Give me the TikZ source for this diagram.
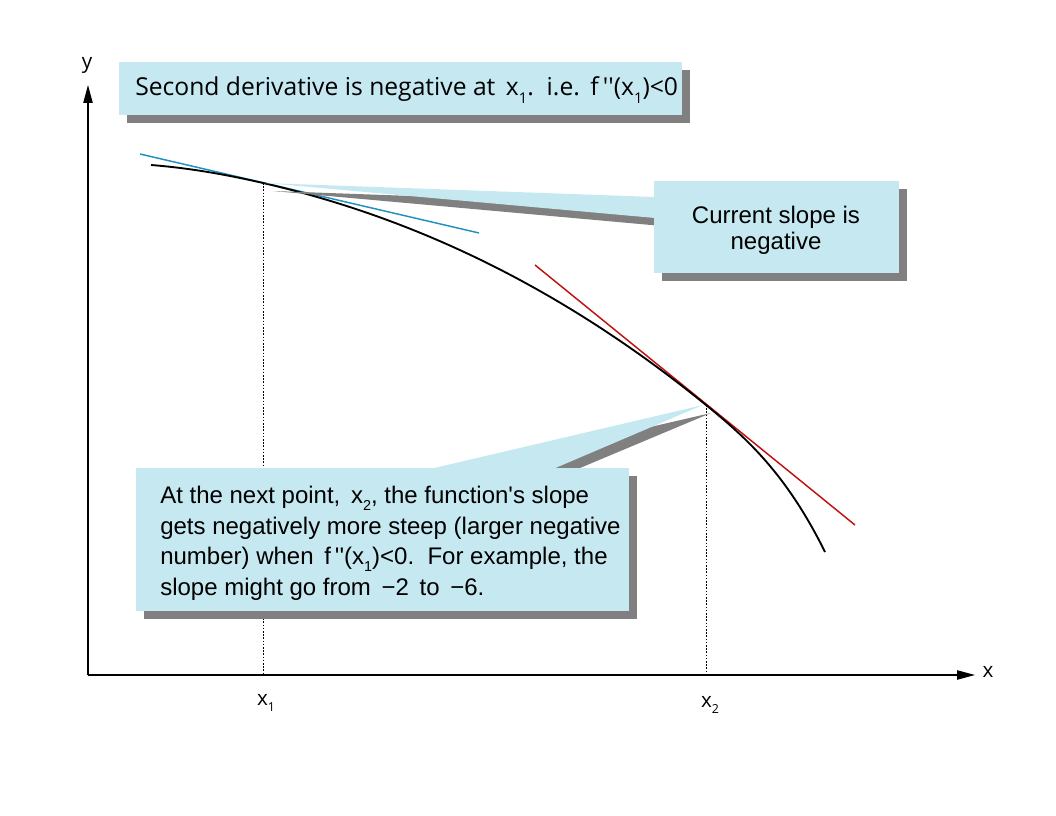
\documentclass[tikz,border=0pt]{standalone}
\usepackage{fontspec}
\setmainfont{Liberation Sans}[Ligatures=TeXOff]
\newfontfamily\os{Open Sans}[Ligatures=TeXOff]
\usetikzlibrary{arrows.meta}
\definecolor{calfill}{RGB}{198,233,241}
\definecolor{shad}{RGB}{128,128,128}
\definecolor{tanblue}{RGB}{30,145,190}
\definecolor{tanred}{RGB}{192,16,16}
\newcommand\sbs[1]{\raisebox{-0.55ex}{\fontsize{0.6em}{0.6em}\selectfont #1}}
\begin{document}
\begin{tikzpicture}[x=0.75pt,y=-0.75pt,
  axis/.style={line width=0.9pt, -{Triangle[length=13.5pt,width=7pt]}},
  guide/.style={line width=0.5pt, dash pattern=on 1.2pt off 1.2pt},
  callbox/.style={fill=calfill},
  callshadow/.style={fill=shad},
  lab/.style={font=\os\fontsize{15.5}{18}\selectfont, inner sep=0pt},
  toptxt/.style={font=\os\fontsize{18.5}{21}\selectfont, inner sep=0pt},
  txt/.style={font=\fontsize{18}{22.9}\selectfont, inner sep=0pt},
  curve/.style={line width=1.4pt},
  tangent/.style={line width=1.1pt},
]
\useasboundingbox (0,0) rectangle (1056,816);

% key points
\coordinate (O) at (88,675);
\coordinate (ytip) at (88,85);
\coordinate (xtip) at (975,675);
\coordinate (p0) at (151,165);
\coordinate (p1) at (263,183);
\coordinate (p2) at (706,405);
\coordinate (p3) at (825,552);
\coordinate (f1) at (263,675);
\coordinate (f2) at (706,675);

% guides
\draw[guide] (p1) -- (f1);
\draw[guide] (p2) -- (f2);

% axes
\draw[axis] (O) -- (ytip);
\draw[axis] (O) -- (xtip);
\node[lab] (ylab) at (87,65) {y};
\node[lab] (xlab) at (988,672) {x};
\node[lab] (x1lab) at (266,703) {x\sbs{1}};
\node[lab] (x2lab) at (710,705) {x\sbs{2}};

% tangents
\coordinate (b0) at (140,154);
\coordinate (b1) at (479,233);
\coordinate (r0) at (535,265);
\coordinate (r1) at (855,525);
\draw[tangent, tanblue] (b0) -- (b1);
\draw[tangent, tanred] (r0) -- (r1);

% curve
\draw[curve] (p0) .. controls (189,168) and (226,174.5) .. (p1)
  .. controls (410.7,217) and (558.3,285) .. (p2)
  .. controls (745.3,437) and (786,473) .. (p3);

% top callout
\fill[callshadow] (127,70) rectangle (690,123);
\fill[callbox] (119,62) rectangle (682,115);
\node[toptxt, anchor=west] (t1) at (135,90) {Second derivative is negative at \,x\sbs{1}.\ \ i.e.\ \,f\,''(x\sbs{1})<0};

% current slope callout
\fill[callshadow] (273,191) -- (662,205) -- (662,226) -- cycle;
\fill[callshadow] (662,189) rectangle (907,281);
\fill[callbox] (265,183) -- (655,197) -- (655,218) -- cycle;
\fill[callbox] (654,181) rectangle (899,273);
\node[txt, align=center, font=\fontsize{18}{19.5}\selectfont] (t2) at (776,230) {Current slope is\\negative};

% next point callout
\fill[callshadow] (711,413) -- (438,476) -- (561,476) -- cycle;
\fill[callshadow] (144,476) rectangle (637,619);
\fill[callbox] (703,405) -- (430,469) -- (553,469) -- cycle;
\fill[callbox] (136,468) rectangle (629,611);
\node[txt, align=left, anchor=north west] (t3) at (160,486) {At the next point, \,x\sbs{2}, the function's slope\\gets negatively more steep (larger negative\\number) when \,f\,''(x\sbs{1})<0.\ \ For example, the\\slope might go from \,−2\, to \,−6.};
\end{tikzpicture}
\end{document}
